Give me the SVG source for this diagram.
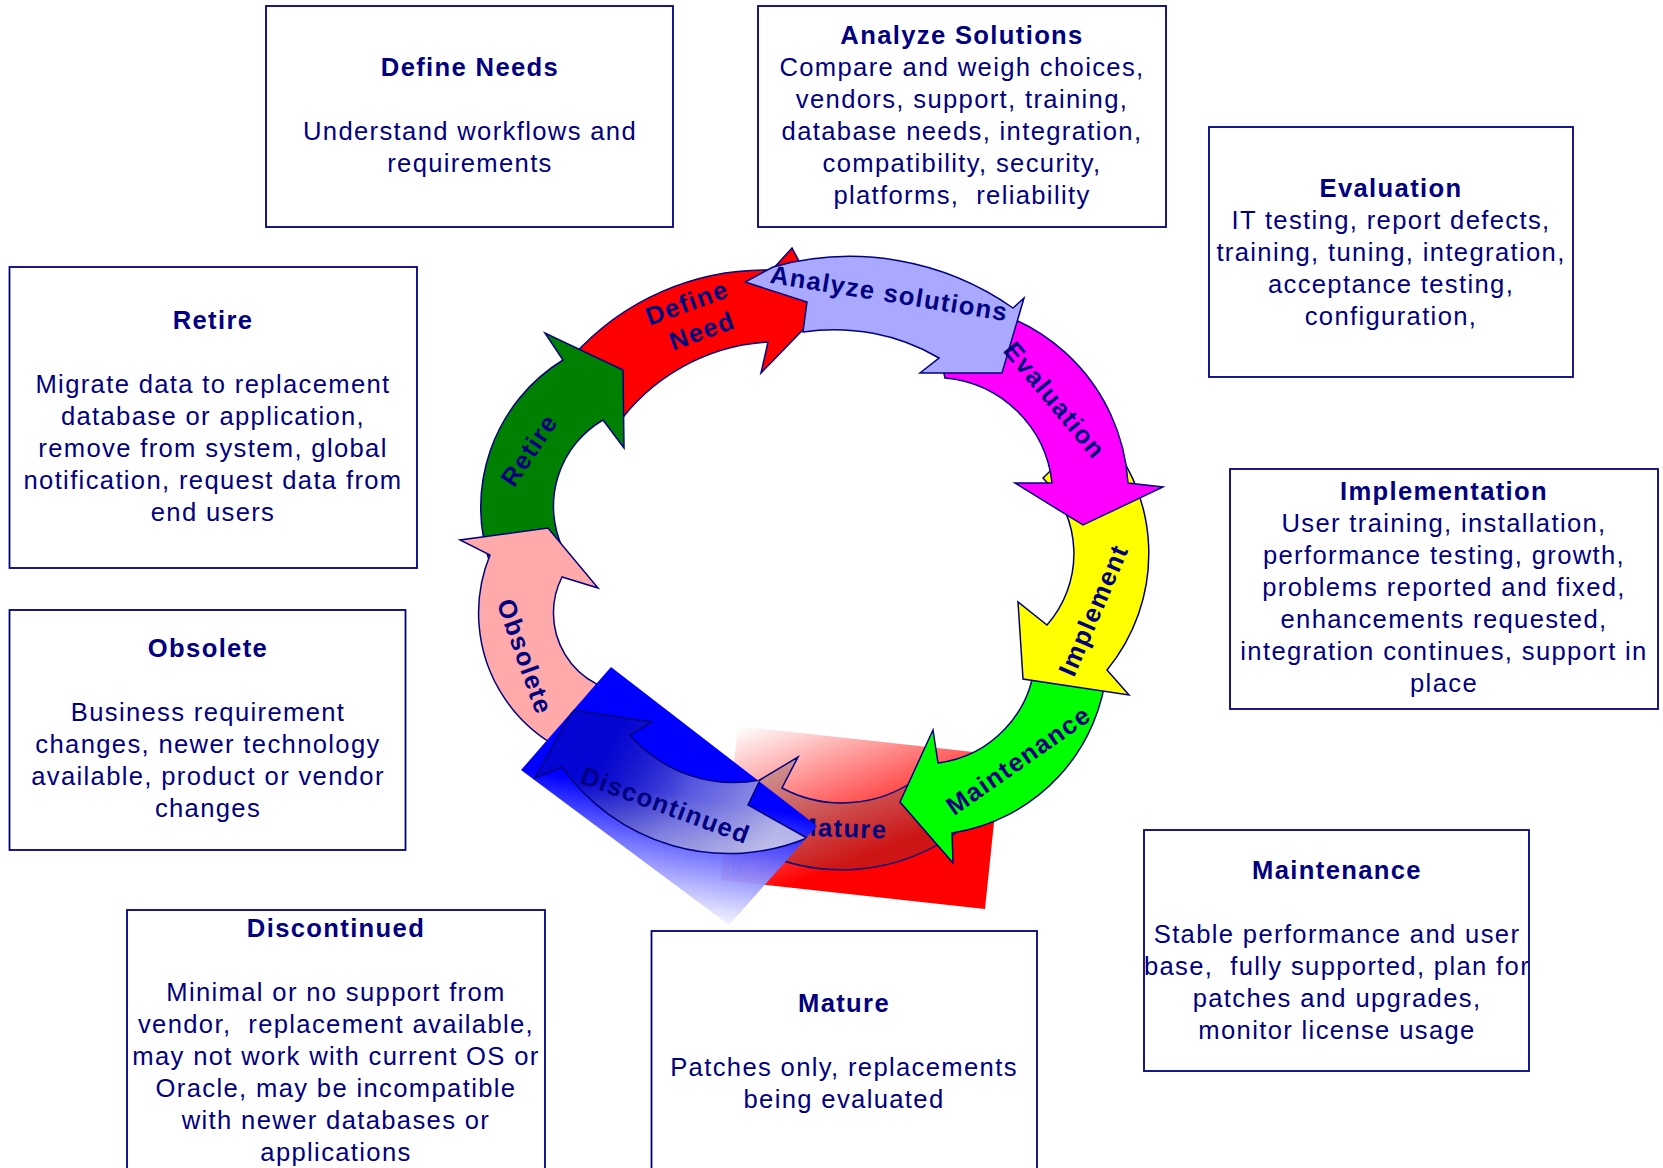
<svg xmlns="http://www.w3.org/2000/svg" width="1663" height="1168" viewBox="0 0 1663 1168">
<style>
  .box{fill:#ffffff;stroke:#000080;stroke-width:1.8}
  .txt{font-family:"Liberation Sans",Arial,Helvetica,sans-serif;font-size:25.6px;fill:#000080;letter-spacing:1.35px;text-anchor:middle}
  .ttl{font-weight:bold}
  .arr{stroke:#000080;stroke-width:1.5;stroke-linejoin:miter}
  .lbl{font-family:"Liberation Sans",Arial,Helvetica,sans-serif;font-size:25.6px;font-weight:bold;fill:#000080;letter-spacing:1.35px;text-anchor:middle}
</style>
<defs>
  <linearGradient id="fadeRed" gradientUnits="userSpaceOnUse" x1="745" y1="725" x2="805" y2="880">
    <stop offset="0" stop-color="#ff0000" stop-opacity="0"/>
    <stop offset="1" stop-color="#ff0000" stop-opacity="1"/>
  </linearGradient>
  <linearGradient id="fadeBlue" gradientUnits="userSpaceOnUse" x1="525" y1="770" x2="505" y2="895">
    <stop offset="0" stop-color="#0000ff" stop-opacity="1"/>
    <stop offset="1" stop-color="#ffffff" stop-opacity="0.9"/>
  </linearGradient>
  <linearGradient id="discFill" gradientUnits="userSpaceOnUse" x1="610" y1="740" x2="770" y2="840">
    <stop offset="0" stop-color="#101050" stop-opacity="0.25"/>
    <stop offset="0.5" stop-color="#a0a0c8" stop-opacity="0.55"/>
    <stop offset="1" stop-color="#d8d8e4" stop-opacity="0.8"/>
  </linearGradient>
  <clipPath id="clipRed"><polygon points="738,726 1001,755 985,909 721,880"/></clipPath>
  <clipPath id="clipBlue"><polygon points="611,667 817,826 729,925 521,770"/></clipPath>
</defs>

<!-- description boxes -->
<g id="box-define-needs">
  <rect class="box" x="266" y="6" width="407" height="221"/>
  <text class="txt ttl" x="470" y="76">Define Needs</text>
  <text class="txt" x="470" y="140">Understand workflows and</text>
  <text class="txt" x="470" y="172">requirements</text>
</g>
<g id="box-analyze-solutions">
  <rect class="box" x="758" y="6" width="408" height="221"/>
  <text class="txt ttl" x="962" y="44">Analyze Solutions</text>
  <text class="txt" x="962" y="76">Compare and weigh choices,</text>
  <text class="txt" x="962" y="108">vendors, support, training,</text>
  <text class="txt" x="962" y="140">database needs, integration,</text>
  <text class="txt" x="962" y="172">compatibility, security,</text>
  <text class="txt" x="962" y="204" xml:space="preserve">platforms,  reliability</text>
</g>
<g id="box-evaluation">
  <rect class="box" x="1209" y="127" width="364" height="250"/>
  <text class="txt ttl" x="1391" y="197">Evaluation</text>
  <text class="txt" x="1391" y="229">IT testing, report defects,</text>
  <text class="txt" x="1391" y="261">training, tuning, integration,</text>
  <text class="txt" x="1391" y="293">acceptance testing,</text>
  <text class="txt" x="1391" y="325">configuration,</text>
</g>
<g id="box-implementation">
  <rect class="box" x="1230" y="469" width="428" height="240"/>
  <text class="txt ttl" x="1444" y="500">Implementation</text>
  <text class="txt" x="1444" y="532">User training, installation,</text>
  <text class="txt" x="1444" y="564">performance testing, growth,</text>
  <text class="txt" x="1444" y="596">problems reported and fixed,</text>
  <text class="txt" x="1444" y="628">enhancements requested,</text>
  <text class="txt" x="1444" y="660">integration continues, support in</text>
  <text class="txt" x="1444" y="692">place</text>
</g>
<g id="box-maintenance">
  <rect class="box" x="1144" y="830" width="385" height="241"/>
  <text class="txt ttl" x="1337" y="879">Maintenance</text>
  <text class="txt" x="1337" y="943">Stable performance and user</text>
  <text class="txt" x="1337" y="975" xml:space="preserve">base,  fully supported, plan for</text>
  <text class="txt" x="1337" y="1007">patches and upgrades,</text>
  <text class="txt" x="1337" y="1039">monitor license usage</text>
</g>
<g id="box-mature">
  <rect class="box" x="651.5" y="931" width="385.5" height="300"/>
  <text class="txt ttl" x="844" y="1012">Mature</text>
  <text class="txt" x="844" y="1076">Patches only, replacements</text>
  <text class="txt" x="844" y="1108">being evaluated</text>
</g>
<g id="box-discontinued">
  <rect class="box" x="127" y="910" width="418" height="300"/>
  <text class="txt ttl" x="336" y="937">Discontinued</text>
  <text class="txt" x="336" y="1001">Minimal or no support from</text>
  <text class="txt" x="336" y="1033" xml:space="preserve">vendor,  replacement available,</text>
  <text class="txt" x="336" y="1065">may not work with current OS or</text>
  <text class="txt" x="336" y="1097">Oracle, may be incompatible</text>
  <text class="txt" x="336" y="1129">with newer databases or</text>
  <text class="txt" x="336" y="1161">applications</text>
</g>
<g id="box-obsolete">
  <rect class="box" x="9.5" y="610" width="396" height="240"/>
  <text class="txt ttl" x="208" y="657">Obsolete</text>
  <text class="txt" x="208" y="721">Business requirement</text>
  <text class="txt" x="208" y="753">changes, newer technology</text>
  <text class="txt" x="208" y="785">available, product or vendor</text>
  <text class="txt" x="208" y="817">changes</text>
</g>
<g id="box-retire">
  <rect class="box" x="9.5" y="267" width="407.5" height="301"/>
  <text class="txt ttl" x="213" y="329">Retire</text>
  <text class="txt" x="213" y="393">Migrate data to replacement</text>
  <text class="txt" x="213" y="425">database or application,</text>
  <text class="txt" x="213" y="457">remove from system, global</text>
  <text class="txt" x="213" y="489">notification, request data from</text>
  <text class="txt" x="213" y="521">end users</text>
</g>

<!-- lifecycle ring of curved arrows -->
<g id="cycle">
  <!-- mature: faded red panel with translucent arrow -->
  <polygon points="738,726 1001,755 985,909 721,880" fill="url(#fadeRed)"/>
  <g clip-path="url(#clipRed)">
    <path class="arr" fill="rgba(90,70,70,0.3)" d="M 960,830 A 195 195 0 0 1 750.5,847 L 734,878 L 730,798 L 798,757 L 782,788 A 128 128 0 0 0 918,778 Z"/>
  </g>
  <text class="lbl" transform="translate(841,837) rotate(2)">Mature</text>

  <!-- define need -->
  <path class="arr" fill="#ff0000" d="M 572,357 A 258 258 0 0 1 772,270 L 792,248 L 824,308 L 761,373 L 768,342 A 200 200 0 0 0 615,428 Z"/>
  <!-- retire -->
  <path class="arr" fill="#008000" d="M 491,566 A 173 173 0 0 1 563,360 L 545,333 L 623,370 L 624,448 L 603,420 A 100 100 0 0 0 563,549 Z"/>
  <!-- obsolete -->
  <path class="arr" fill="#ffaaaa" d="M 632,766 A 153 153 0 0 1 490,555 L 460,540 L 548,528 L 598,588 L 562,577 A 80 80 0 0 0 632,693 Z"/>

  <!-- discontinued: faded blue panel with translucent arrow -->
  <polygon points="611,667 817,826 729,925 521,770" fill="url(#fadeBlue)"/>
  <g clip-path="url(#clipBlue)">
    <path class="arr" fill="url(#discFill)" d="M 807,838 A 204 204 0 0 1 562,767 L 535,778 L 573,710 L 652,722 L 630,735 A 137 137 0 0 0 760,780 L 748,805 Z"/>
  </g>

  <!-- maintenance -->
  <path class="arr" fill="#00ff00" d="M 1107,666 A 183 183 0 0 1 952,833 L 953,863 L 900,802 L 933,730 L 938,763 A 111 111 0 0 0 1035,659 Z"/>
  <!-- implement -->
  <path class="arr" fill="#ffff00" d="M 1097,426 A 183 183 0 0 1 1107,670 L 1129,695 L 1023,679 L 1018,602 L 1047,625 A 108 108 0 0 0 1043,478 Z"/>
  <!-- evaluation -->
  <path class="arr" fill="#ff00ff" d="M 928,303 A 192 192 0 0 1 1128,483 L 1163,487 L 1083,525 L 1015,483 L 1052,483 A 118 118 0 0 0 945,378 Z"/>
  <!-- analyze solutions -->
  <path class="arr" fill="#a9a9ff" d="M 773,267 A 284 284 0 0 1 1013,308 L 1024,298 L 1002,373 L 920,373 L 939,358 A 208 208 0 0 0 803,332 L 807,302 L 745,282 Z"/>

  <!-- arrow captions -->
  <text class="lbl" transform="translate(690,311) rotate(-20)">Define</text>
  <text class="lbl" transform="translate(705,339) rotate(-20)">Need</text>
  <text class="lbl" transform="translate(888,302) rotate(9.2)">Analyze solutions</text>
  <text class="lbl" transform="translate(1048,406) rotate(50.2)">Evaluation</text>
  <text class="lbl" transform="translate(1101.5,613.5) rotate(-66.9)">Implement</text>
  <text class="lbl" transform="translate(1023.5,767.5) rotate(-35)">Maintenance</text>
  <text class="lbl" transform="translate(662.5,813.5) rotate(20.2)">Discontinued</text>
  <text class="lbl" transform="translate(516.5,659.5) rotate(70.5)">Obsolete</text>
  <text class="lbl" transform="translate(536.5,455) rotate(-56)">Retire</text>
</g>
</svg>
